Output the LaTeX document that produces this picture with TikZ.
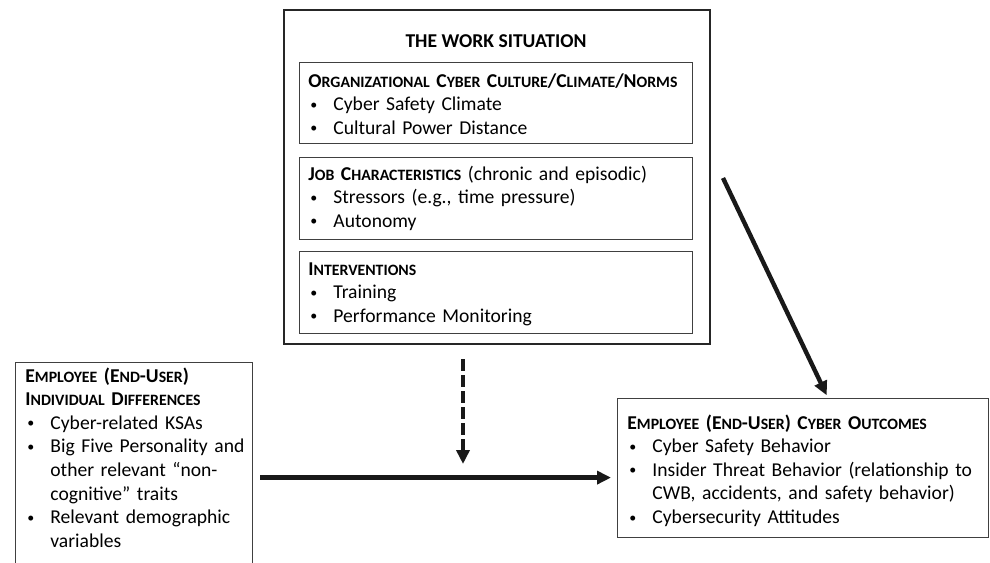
\documentclass[tikz,border=0pt]{standalone}
\usepackage{fontspec}
\setmainfont{Carlito}
\usetikzlibrary{arrows.meta}

\newcommand{\smc}[1]{{\fontsize{7.9}{11.8}\selectfont #1}}
\newcommand{\bul}{\hspace*{1pt}\makebox[11.5pt][l]{\fontsize{7}{7}\selectfont\raisebox{0.2ex}{\textbullet}}}
\newcommand{\cont}{\hspace*{12.5pt}}

\begin{document}
\begin{tikzpicture}[x=0.5pt,y=-0.5pt,
    box/.style={draw=black!75,line width=0.6pt,anchor=north west,inner sep=0pt},
    txt/.style={anchor=base west,inner sep=0pt,align=left,
        font=\fontsize{9.8}{11.8}\selectfont},
    arr/.style={line width=2.2pt,draw=black!90,-{Triangle[width=6.5pt,length=7pt]}}]

    \clip (0,0) rectangle (990,562);

    % the work situation
    \node[box,draw=black!85,line width=1pt,minimum width=213pt,minimum height=167pt] (work) at (283,9) {};
    \node[txt,anchor=base] (worktitle) at (496,47) {\textbf{THE WORK SITUATION}};

    \node[box,minimum width=196.5pt,minimum height=40.5pt] (culture) at (299,62) {};
    \node[txt,text width=190pt] (culturetxt) at (308,87) {%
        \textbf{O\smc{RGANIZATIONAL} C\smc{YBER} C\smc{ULTURE}/C\smc{LIMATE}/N\smc{ORMS}}\\
        \bul Cyber Safety Climate\\
        \bul Cultural Power Distance};

    \node[box,minimum width=196.5pt,minimum height=41pt] (job) at (299,157) {};
    \node[txt,text width=190pt] (jobtxt) at (308,180) {%
        \textbf{J\smc{OB} C\smc{HARACTERISTICS}} (chronic and episodic)\\
        \bul Stressors (e.g., time pressure)\\
        \bul Autonomy};

    \node[box,minimum width=196.5pt,minimum height=41pt] (interv) at (299,251) {};
    \node[txt,text width=190pt] (intervtxt) at (308,275) {%
        \textbf{I\smc{NTERVENTIONS}}\\
        \bul Training\\
        \bul Performance Monitoring};

    % individual differences
    \node[box,minimum width=118.5pt,minimum height=115pt] (indiv) at (15,362) {};
    \node[txt,text width=114pt] (indivtxt) at (25,382) {%
        \textbf{E\smc{MPLOYEE} (E\smc{ND}-U\smc{SER})}\\
        \textbf{I\smc{NDIVIDUAL} D\smc{IFFERENCES}}\\
        \bul Cyber-related KSAs\\
        \bul Big Five Personality and\\
        \cont other relevant “non-\\
        \cont cognitive” traits\\
        \bul Relevant demographic\\
        \cont variables};

    % cyber outcomes
    \node[box,minimum width=185.5pt,minimum height=69.5pt] (outcome) at (617,398) {};
    \node[txt,text width=180pt] (outcometxt) at (627,429) {%
        \textbf{E\smc{MPLOYEE} (E\smc{ND}-U\smc{SER}) C\smc{YBER} O\smc{UTCOMES}}\\
        \bul Cyber Safety Behavior\\
        \bul Insider Threat Behavior (relationship to\\
        \cont CWB, accidents, and safety behavior)\\
        \bul Cybersecurity Attitudes};

    % arrows
    \coordinate (mid) at (463,477);
    \coordinate (slant) at (723,178);
    \coordinate (hit) at (828,398);

    \draw[arr,shorten <=3.5pt,shorten >=3pt] (indiv.east) -- (indiv.east -| outcome.west);
    \draw[arr,dash pattern=on 6pt off 2pt,shorten <=7pt,shorten >=6.5pt] (mid |- work.south) -- (mid);
    \draw[arr,shorten >=1.5pt] (slant) -- (hit);
\end{tikzpicture}
\end{document}
